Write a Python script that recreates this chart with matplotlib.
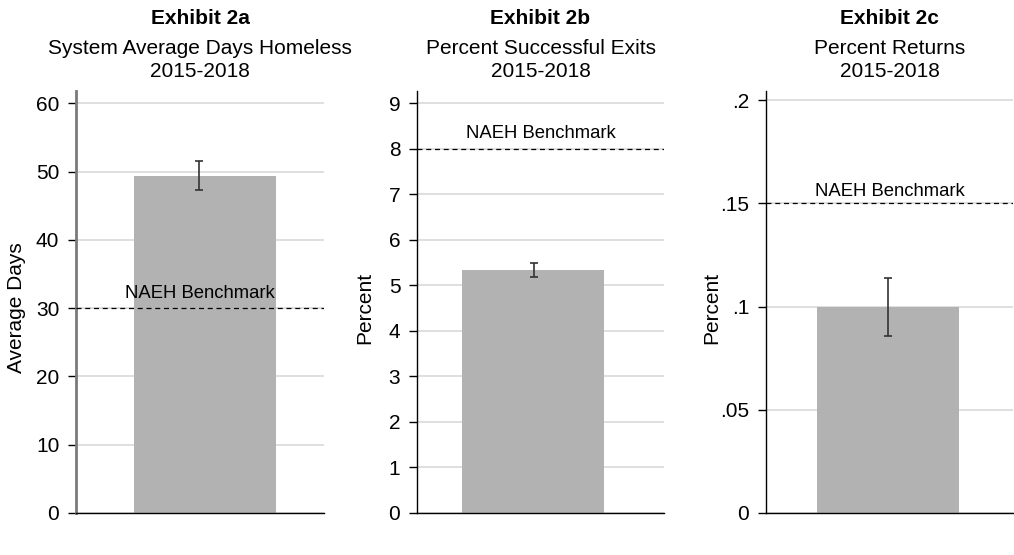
import matplotlib
matplotlib.use("Agg")
import matplotlib.pyplot as plt
import matplotlib.transforms as mtransforms
from matplotlib.ticker import FuncFormatter

plt.rcParams['font.family'] = ['Liberation Sans', 'DejaVu Sans']

# Panel data
exhibits = ["Exhibit 2a", "Exhibit 2b", "Exhibit 2c"]
subtitles = ["System Average Days Homeless\n2015-2018",
             "Percent Successful Exits\n2015-2018",
             "Percent Returns\n2015-2018"]
ylabels = ["Average Days", "Percent", "Percent"]
values = [49.4, 5.34, 0.100]
errors = [2.1, 0.16, 0.014]
benchmarks = [30, 8, 0.15]
benchmark_label = "NAEH Benchmark"
yticks = [[0, 10, 20, 30, 40, 50, 60],
          [0, 1, 2, 3, 4, 5, 6, 7, 8, 9],
          [0, 0.05, 0.10, 0.15, 0.20]]
ytop = [61.8, 9.27, 0.2045]


def strip_zero(v, pos):
    if v == 0:
        return "0"
    s = f"{v:.2f}".rstrip("0")
    return s[1:] if s.startswith("0") else s


W, H = 1014, 555
fig = plt.figure(figsize=(W / 100, H / 100), dpi=100)

# layout in pixels: left, right, bar x-limits, error-bar offset, label x, spine style
panel_px = [(76, 324), (417, 664), (766, 1013)]
xlims = [(-0.908, 0.838), (-0.817, 0.923), (-0.859, 0.88)]
err_offset = [-0.04, 0.01, 0.0]
ylabel_px = [17, 365, 712]
bench_offset = [2.2, 0.34, 0.006]
spine_style = [("#7a7a7a", 2.0), ("black", 1.0), ("black", 1.0)]

top_px, bot_px = 91, 513
for i in range(3):
    l, r = panel_px[i]
    ax = fig.add_axes([l / W, 1 - bot_px / H, (r - l) / W, (bot_px - top_px) / H])
    ax.bar([0], [values[i]], width=1.0, color="#b2b2b2", zorder=2)
    ax.errorbar([err_offset[i]], [values[i]], yerr=[errors[i]], fmt="none",
                ecolor="#333333", elinewidth=1.2, capsize=3, capthick=1.2, zorder=3)
    ax.axhline(benchmarks[i], color="black", lw=0.9, ls=(0, (4, 3)), zorder=4)
    trans = mtransforms.blended_transform_factory(ax.transAxes, ax.transData)
    ax.text(0.5, benchmarks[i] + bench_offset[i], benchmark_label, transform=trans,
            ha="center", va="center", fontsize=13.3, zorder=5)

    ax.set_xlim(*xlims[i])
    ax.set_ylim(0, ytop[i])
    ax.set_yticks(yticks[i])
    if i == 2:
        ax.yaxis.set_major_formatter(FuncFormatter(strip_zero))
    ax.set_xticks([])
    ax.grid(axis="y", color="#dcdcdc", lw=1.3, zorder=0)
    ax.set_axisbelow(True)
    for s in ("top", "right"):
        ax.spines[s].set_visible(False)
    sc, sw = spine_style[i]
    ax.spines["left"].set_color(sc)
    ax.spines["left"].set_linewidth(sw)
    ax.spines["bottom"].set_color("black")
    ax.spines["bottom"].set_linewidth(1.0)
    ax.tick_params(axis="y", length=6, width=1, pad=6, labelsize=15, color="black")

    h = bot_px - top_px
    ax.text(0.5, 1 + 73 / h, exhibits[i], transform=ax.transAxes, ha="center",
            va="center", fontsize=15, fontweight="bold")
    ax.text(0.5, 1 + 31 / h, subtitles[i], transform=ax.transAxes, ha="center",
            va="center", fontsize=15, linespacing=1.32)

    fig.text(ylabel_px[i] / W, 1 - 308 / H, ylabels[i], rotation=90,
             ha="center", va="center", fontsize=15)

fig.savefig("out.png", dpi=100)
